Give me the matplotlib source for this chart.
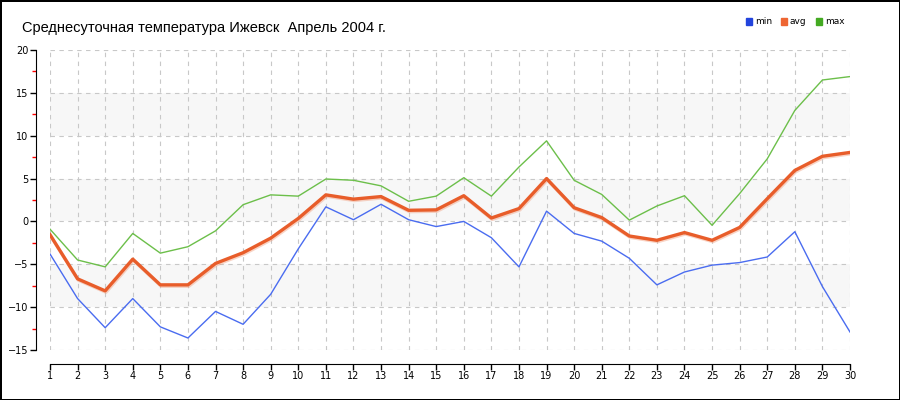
import matplotlib
matplotlib.use("Agg")
import matplotlib.pyplot as plt
import matplotlib.patches as mpatches
import matplotlib.patheffects as pe
from matplotlib.ticker import MultipleLocator

# Daily temperatures, Izhevsk, April 2004
days = list(range(1, 31))
t_min = [-3.8, -9.0, -12.4, -9.0, -12.3, -13.6, -10.5, -12.0, -8.5, -3.2,
         1.7, 0.2, 2.0, 0.2, -0.6, 0.0, -1.9, -5.3, 1.2, -1.4,
         -2.3, -4.3, -7.4, -5.9, -5.1, -4.8, -4.15, -1.2, -7.6, -12.9]
t_avg = [-1.55, -6.7, -8.1, -4.4, -7.4, -7.4, -4.9, -3.65, -1.95, 0.35,
         3.1, 2.6, 2.9, 1.3, 1.35, 3.0, 0.4, 1.5, 5.0, 1.6,
         0.45, -1.7, -2.2, -1.3, -2.2, -0.7, 2.65, 5.95, 7.6, 8.05]
t_max = [-0.9, -4.5, -5.3, -1.4, -3.7, -2.95, -1.1, 1.95, 3.1, 2.95,
         4.95, 4.8, 4.15, 2.35, 2.95, 5.1, 2.95, 6.35, 9.4, 4.8,
         3.15, 0.15, 1.8, 3.0, -0.45, 3.25, 7.3, 12.95, 16.5, 16.9]
shaded_bands = [(10, 15), (0, 5), (-10, -5)]

title = "Среднесуточная температура Ижевск  Апрель 2004 г."
C_MIN, C_AVG, C_MAX = "#4a6cf0", "#e85d2a", "#6cbf4a"

plt.rcParams["font.family"] = ["DejaVu Sans"]

fig = plt.figure(figsize=(9, 4), dpi=100)
fig.patch.set_edgecolor("black")
fig.patch.set_linewidth(2)
ax = fig.add_axes([50 / 900, 50 / 400, 800 / 900, 300 / 400])

for lo, hi in shaded_bands:
    ax.axhspan(lo, hi, color="#f7f7f7", zorder=0, lw=0)

ax.plot(days, t_min, color=C_MIN, lw=1.0, zorder=3)
ax.plot(days, t_max, color=C_MAX, lw=1.0, zorder=3)
ax.plot(days, t_avg, color=C_AVG, lw=2.4, zorder=4,
        path_effects=[pe.SimpleLineShadow(offset=(0.6, -1.0), shadow_color="#f2a080", alpha=0.45),
                      pe.Normal()])

ax.set_xlim(1, 30)
ax.set_ylim(-15, 20)
ax.set_xticks(days)
ax.yaxis.set_major_locator(MultipleLocator(5))
ax.yaxis.set_minor_locator(MultipleLocator(2.5))

ax.grid(True, which="major", color="#c8c8c8", ls=(0, (4, 4)), lw=0.8)
ax.set_axisbelow(True)

for s in ("top", "right"):
    ax.spines[s].set_visible(False)
ax.spines["left"].set_position(("outward", 10))
ax.spines["bottom"].set_position(("outward", 10))
ax.spines["left"].set_bounds(-15, 20)
ax.spines["bottom"].set_bounds(1, 30)

ax.tick_params(axis="both", which="major", direction="out", length=4, width=1,
               labelsize=7, pad=1.5)
ax.tick_params(axis="y", which="minor", direction="out", length=3, width=1, color="red")
ax.tick_params(axis="x", which="major", pad=1)

fig.text(22 / 900, 1 - 28 / 400, title, fontsize=10.5, va="center", ha="left",
         family=["Liberation Sans", "DejaVu Sans"])

handles = [mpatches.Patch(color="#2244dd", label="min"),
           mpatches.Patch(color="#ee6633", label="avg"),
           mpatches.Patch(color="#44aa22", label="max")]
fig.legend(handles=handles, loc="center", bbox_to_anchor=(795 / 900, 1 - 22 / 400),
           ncol=3, frameon=False, fontsize=6.5, handlelength=0.7, handleheight=0.7,
           handletextpad=0.3, columnspacing=1.0)

fig.savefig("out.png", dpi=100, edgecolor=fig.get_edgecolor())
